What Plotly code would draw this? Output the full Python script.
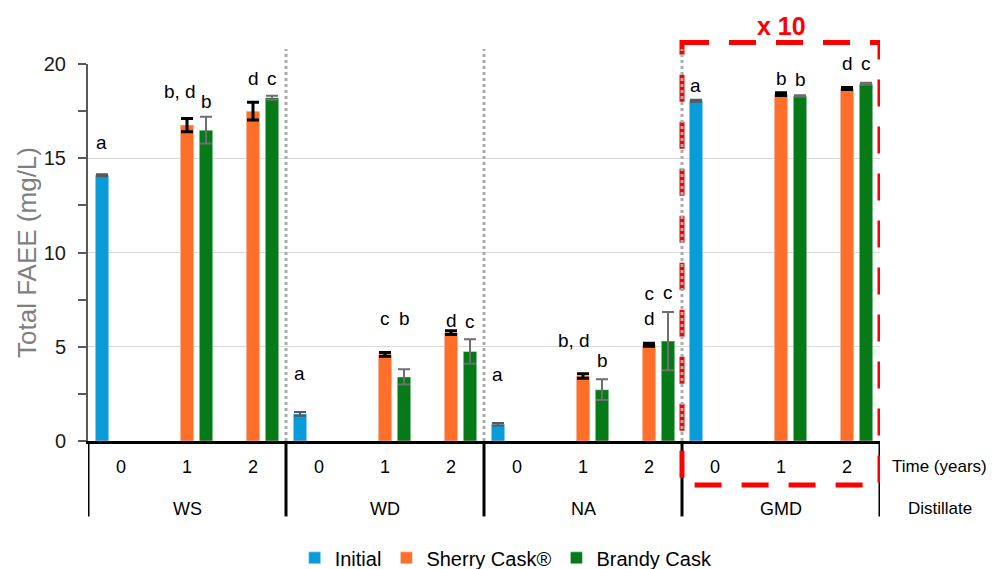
import plotly.graph_objects as go

# ---------------- data ----------------
distillates = ["WS", "WD", "NA", "GMD"]
time_labels = ["0", "1", "2"] * 4

initial = [14.1, None, None, 1.44, None, None, 0.89, None, None, 18.05, None, None]
initial_err = [0.05, 0, 0, 0.1, 0, 0, 0.07, 0, 0, 0.05, 0, 0]
sherry = [None, 16.76, 17.5, None, 4.6, 5.75, None, 3.45, 5.1, None, 18.4, 18.7]
sherry_err = [0, 0.35, 0.47, 0, 0.1, 0.1, 0, 0.12, 0.08, 0, 0.07, 0.05]
brandy = [None, 16.49, 18.21, None, 3.4, 4.75, None, 2.72, 5.3, None, 18.3, 18.95]
brandy_err = [0, 0.71, 0.1, 0, 0.4, 0.65, 0, 0.55, 1.55, 0, 0.04, 0.05]

initial_letters = ["a", "", "", "a", "", "", "a", "", "", "a", "", ""]
sherry_letters = ["", "b, d", "d", "", "c", "d", "", "b, d", "c<br>d", "", "b", "d"]
brandy_letters = ["", "b", "c", "", "b", "c", "", "b", "c", "", "b", "c"]

# ---------------- style ----------------
FONT = "Arial, Liberation Sans, sans-serif"
C_INIT, C_SHERRY, C_BRANDY = "#0a9cd8", "#ff6f2a", "#067a17"
BARGAP, BARGROUPGAP = 0.136, 0.29
# pixel offsets (dy, dx) of the letter labels relative to the error-bar tops
initial_shift = {0: (32, 0), 3: (38, 0), 6: (48, 0), 9: (14, 0)}
sherry_shift = {1: (27, -7), 2: (24, 0), 4: (34, 0), 5: (10, 0), 7: (33, -9),
                8: (37, 0), 10: (14, 0), 11: (24, 0)}
brandy_shift = {1: (15, 0), 2: (17, 0), 4: (51, 0), 5: (18, 0), 7: (19, 0),
                8: (19, 0), 10: (16, 0), 11: (19, 0)}

x = list(range(len(time_labels)))

fig = go.Figure()
fig.add_trace(go.Bar(
    x=x, y=initial, name="Initial", marker_color=C_INIT,
    error_y=dict(type="data", array=initial_err, color="#595959", thickness=2, width=6),
))
fig.add_trace(go.Bar(
    x=x, y=sherry, name="Sherry Cask®", marker_color=C_SHERRY,
    error_y=dict(type="data", array=sherry_err, color="#000000", thickness=3, width=6),
))
fig.add_trace(go.Bar(
    x=x, y=brandy, name="Brandy Cask", marker_color=C_BRANDY,
    error_y=dict(type="data", array=brandy_err, color="#6e6e6e", thickness=2, width=6),
))

# letter annotations
step = (1 - BARGAP) / 3
annotations = []
for k, (vals, errs, letters, shifts) in enumerate([
    (initial, initial_err, initial_letters, initial_shift),
    (sherry, sherry_err, sherry_letters, sherry_shift),
    (brandy, brandy_err, brandy_letters, brandy_shift),
]):
    for i, (v, e, t) in enumerate(zip(vals, errs, letters)):
        if v is None or not t:
            continue
        dy, dx = shifts[i]
        annotations.append(dict(
            x=i + (k - 1) * step, y=v + e, xref="x", yref="y", text=t,
            showarrow=False, yanchor="middle", yshift=dy, xshift=dx,
            font=dict(family=FONT, size=19, color="#000000"),
        ))

# distillate names
for g, name in enumerate(distillates):
    annotations.append(dict(
        x=g * 3 + 1, y=0, xref="x", yref="paper", text=name, showarrow=False,
        yanchor="middle", yshift=-68, font=dict(family=FONT, size=18, color="#000000"),
    ))
annotations.append(dict(
    x=1, y=0, xref="paper", yref="paper", text="Time (years)", showarrow=False,
    xanchor="left", yanchor="middle", xshift=10, yshift=-25,
    font=dict(family=FONT, size=17, color="#000000"),
))
annotations.append(dict(
    x=1, y=0, xref="paper", yref="paper", text="Distillate", showarrow=False,
    xanchor="left", yanchor="middle", xshift=26, yshift=-67,
    font=dict(family=FONT, size=17, color="#000000"),
))
annotations.append(dict(
    x=10, y=1, xref="x", yref="paper", text="<b>x 10</b>", showarrow=False,
    yanchor="middle", yshift=38, font=dict(family=FONT, size=25, color="#ff0000"),
))

shapes = []
n_groups = len(distillates)
bounds = [g * 3 - 0.5 for g in range(n_groups + 1)]
# black table lines under the axis
for b in bounds:
    shapes.append(dict(type="line", xref="x", yref="paper", x0=b, x1=b, y0=0, y1=-0.2,
                       line=dict(color="#000000", width=3)))
# red dashed box round GMD
shapes.append(dict(type="rect", xref="x", yref="paper", x0=bounds[3], x1=bounds[4],
                   y0=1.057, y1=-0.117,
                   line=dict(color="#ff0000", width=5, dash="27px,20px")))
# grey dotted separators inside the plot
for b in bounds[1:4]:
    shapes.append(dict(type="line", xref="x", yref="paper", x0=b, x1=b, y0=0, y1=1.04,
                       line=dict(color="#ababab", width=3, dash="dot")))

fig.update_layout(
    width=995, height=569,
    margin=dict(l=88, r=115, t=64, b=128, autoexpand=False),
    paper_bgcolor="white", plot_bgcolor="white",
    barmode="group", bargap=BARGAP, bargroupgap=BARGROUPGAP,
    font=dict(family=FONT, color="#000000"),
    annotations=annotations, shapes=shapes,
    legend=dict(orientation="h", x=0.528, xanchor="center", y=-0.31, yanchor="middle",
                font=dict(family=FONT, size=20, color="#000000"), itemwidth=30),
    xaxis=dict(
        range=[-0.5, 11.5], tickmode="array", tickvals=x, ticktext=time_labels,
        showline=True, linecolor="#000000", linewidth=3, showgrid=False, zeroline=False,
        ticks="", ticklabelstandoff=7, tickfont=dict(family=FONT, size=18, color="#000000"),
    ),
    yaxis=dict(
        range=[0, 20], dtick=5, tick0=0, showline=True, linecolor="#595959", linewidth=2,
        ticks="outside", ticklen=8, tickwidth=2, tickcolor="#595959",
        minor=dict(dtick=2.5, ticks="outside", ticklen=8, tickwidth=2, tickcolor="#595959",
                   showgrid=False),
        showgrid=True, gridcolor="#d9d9d9", gridwidth=1, zeroline=False,
        ticklabelstandoff=8, tickfont=dict(family=FONT, size=20, color="#1a1a1a"),
        title=dict(text="Total FAEE (mg/L)", standoff=0,
                   font=dict(family=FONT, size=26, color="#7f7f7f")),
    ),
)

fig.write_html("out.html", config={"displayModeBar": False},
               post_script="document.body.style.margin='0';")
